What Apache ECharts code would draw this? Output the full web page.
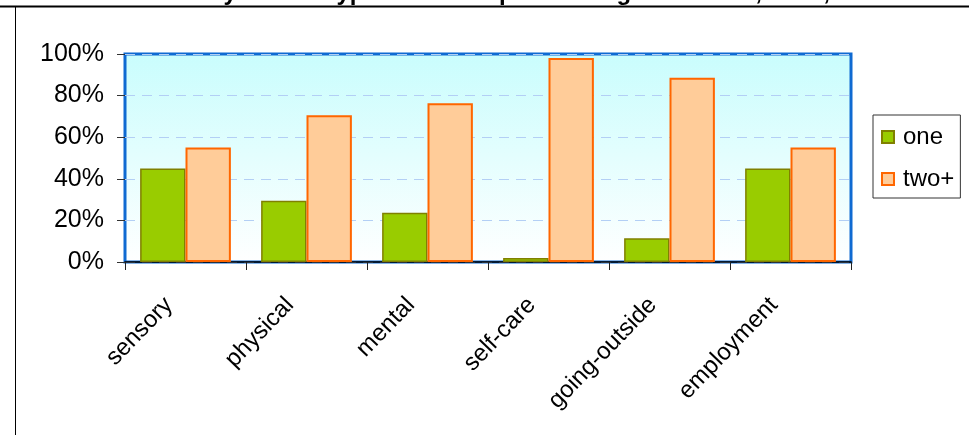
<!DOCTYPE html>
<html>
<head>
<meta charset="utf-8">
<script src="https://cdn.jsdelivr.net/npm/echarts@6/dist/echarts.min.js"></script>
<style>
  html, body { margin: 0; padding: 0; background: #fff; }
  #chart { width: 969px; height: 435px; }
</style>
</head>
<body>
<div id="chart"></div>
<script>
const categories = ['sensory', 'physical', 'mental', 'self-care', 'going-outside', 'employment'];
const oneValues = [45, 29.5, 23.7, 1.9, 11.4, 45];
const twoPlusValues = [55, 70.5, 76.3, 98.1, 88.6, 55];
const seriesNames = ['one', 'two+'];
const yTicks = [0, 20, 40, 60, 80, 100];
const titleText = 'Disability Status Types in the Population Aged 15 to 64, NSW, 2000';

const FONT = '"Liberation Sans", Arial, sans-serif';
const chart = echarts.init(document.getElementById('chart'), null, { renderer: 'canvas' });

chart.setOption({
  animation: false,
  backgroundColor: '#ffffff',
  textStyle: { fontFamily: FONT },
  graphic: [
    { type: 'text', z: 10, style: { text: titleText, x: 510, y: 5, textAlign: 'center', textVerticalAlign: 'bottom', font: 'bold 24px "Liberation Sans", Arial, sans-serif', fill: '#000' } },
    { type: 'line', z: 20, shape: { x1: 0, y1: 6.5, x2: 969, y2: 6.5 }, style: { stroke: '#000', lineWidth: 2 } },
    { type: 'line', z: 20, shape: { x1: 15.5, y1: 7, x2: 15.5, y2: 435 }, style: { stroke: '#000', lineWidth: 1 } }
  ],
  grid: {
    left: 125, right: 118, top: 54, bottom: 173,
    show: true,
    borderColor: '#0f6ad2',
    borderWidth: 3,
    backgroundColor: {
      type: 'linear', x: 0, y: 0, x2: 0, y2: 1,
      colorStops: [{ offset: 0, color: '#c9fdfd' }, { offset: 1, color: '#ffffff' }]
    }
  },
  legend: {
    orient: 'vertical',
    left: 873, top: 115,
    padding: [10, 6, 7, 8],
    itemWidth: 12, itemHeight: 12,
    itemGap: 18,
    icon: 'rect',
    borderColor: '#333', borderWidth: 1,
    backgroundColor: '#fff',
    textStyle: { fontSize: 24, color: '#000', fontFamily: FONT, padding: [0, 0, 0, 4] },
    data: seriesNames
  },
  xAxis: {
    type: 'category',
    data: categories,
    axisLine: { show: true, lineStyle: { color: '#000', width: 1.5 } },
    axisTick: { show: true, alignWithLabel: false, length: 8, lineStyle: { color: '#222', width: 1 } },
    axisLabel: { interval: 0, rotate: 46, fontSize: 24, color: '#000', margin: 22, padding: [0, 24, 0, 0], fontFamily: FONT },
    splitLine: { show: false }
  },
  yAxis: {
    type: 'value',
    min: yTicks[0], max: yTicks[yTicks.length - 1], interval: 20,
    axisLine: { show: false },
    axisTick: { show: true, length: 8, lineStyle: { color: '#333', width: 1 } },
    axisLabel: { fontSize: 25, color: '#000', margin: 21, formatter: '{value}%', fontFamily: FONT },
    splitLine: { show: true, lineStyle: { color: '#b3cff5', type: [10, 7], width: 1 } }
  },
  series: [
    {
      name: seriesNames[0], type: 'bar', data: oneValues,
      barGap: '0%', barCategoryGap: '25%',
      itemStyle: { color: '#99cc00', borderColor: '#808000', borderWidth: 1.5 }
    },
    {
      name: seriesNames[1], type: 'bar', data: twoPlusValues,
      barGap: '0%', barCategoryGap: '25%',
      itemStyle: { color: '#ffcc99', borderColor: '#ff6600', borderWidth: 2 }
    }
  ]
});
</script>
</body>
</html>
